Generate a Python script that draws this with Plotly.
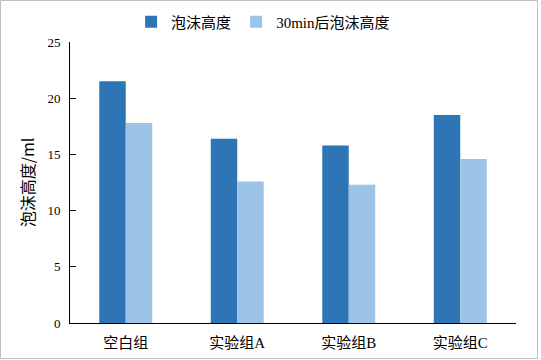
import plotly.graph_objects as go

categories = ["空白组", "实验组A", "实验组B", "实验组C"]
foam_height = [21.5, 16.4, 15.8, 18.5]
foam_height_30min = [17.8, 12.6, 12.3, 14.6]
series_names = ["泡沫高度", "30min后泡沫高度"]

FONT = "Liberation Serif, Noto Sans CJK SC"

fig = go.Figure()
fig.add_trace(go.Bar(x=categories, y=foam_height, name=series_names[0],
                     marker=dict(color="#2E75B6", line=dict(width=0))))
fig.add_trace(go.Bar(x=categories, y=foam_height_30min, name=series_names[1],
                     marker=dict(color="#9DC3E6", line=dict(width=0))))

W, H = 541, 360
ml, mr, mt, mb = 70, 25, 42, 37
pw, ph = W - ml - mr, H - mt - mb

fig.update_layout(
    width=W, height=H,
    margin=dict(l=ml, r=mr, t=mt, b=mb, autoexpand=False),
    paper_bgcolor="white", plot_bgcolor="white",
    barmode="group", bargap=0.525, bargroupgap=0,
    font=dict(family=FONT, size=13, color="black"),
    showlegend=True,
    legend=dict(orientation="h", x=0.433, xanchor="center",
                y=(H - mb - 22) / ph, yanchor="middle", yref="paper",
                font=dict(family=FONT, size=15),
                bgcolor="rgba(0,0,0,0)",
                itemwidth=30, tracegroupgap=0),
    xaxis=dict(showline=True, linecolor="black", linewidth=1, ticks="",
               showgrid=False, tickfont=dict(family=FONT, size=15),
               ticklabelstandoff=6, automargin=False),
    yaxis=dict(range=[0, 25], dtick=5, showline=True, linecolor="black", linewidth=1,
               ticks="inside", ticklen=6, tickcolor="black", showgrid=False,
               zeroline=False, tickfont=dict(family=FONT, size=13),
               ticklabelstandoff=6, automargin=False,
               title=dict(text="泡沫高度/ml",
                          font=dict(family="Noto Sans CJK SC", size=16, color="black"),
                          standoff=8)),
    shapes=[dict(type="rect", xref="paper", yref="paper",
                 x0=(0.5 - ml) / pw, x1=(537.5 - ml) / pw,
                 y0=(H - mb - 358.5) / ph, y1=(H - mb - 0.5) / ph,
                 line=dict(color="#BFBFBF", width=1), fillcolor="rgba(0,0,0,0)",
                 layer="below")],
)

fig.write_html("out.html")
